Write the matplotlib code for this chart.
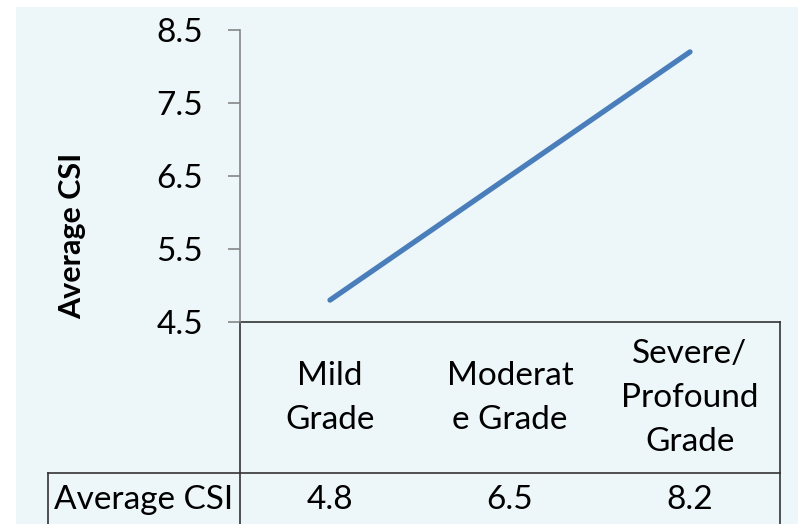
import matplotlib
matplotlib.use('Agg')
import matplotlib.pyplot as plt
from matplotlib.patches import Rectangle

plt.rcParams['font.family'] = ['Lato', 'DejaVu Sans']

# data
categories = ['Mild\nGrade', 'Moderat\ne Grade', 'Severe/\nProfound\nGrade']
avg_csi = [4.8, 6.5, 8.2]
series_name = 'Average CSI'
y_ticks = [4.5, 5.5, 6.5, 7.5, 8.5]

W, H = 798, 524
fig = plt.figure(figsize=(W / 100, H / 100), dpi=100)

# light blue chart area, white margin top/left
fig.patches.append(Rectangle((16 / W, 0), 1, (H - 7) / H, transform=fig.transFigure,
                             facecolor='#edf6f9', edgecolor='none', zorder=-10))

# plot area in pixels: x 240..780, y 30..322
ax = fig.add_axes([240 / W, (H - 322) / H, 540 / W, 292 / H])
ax.set_facecolor('none')

x = list(range(len(categories)))
ax.plot(x, avg_csi, color='#4a7ebb', lw=3.8, solid_capstyle='round', zorder=3)

ax.set_xlim(-0.5, len(categories) - 0.5)
ax.set_ylim(y_ticks[0], y_ticks[-1])
ax.set_yticks(y_ticks)
ax.set_yticklabels([f'{t:.1f}' for t in y_ticks])
ax.set_xticks([])
ax.tick_params(axis='y', length=8.6, width=1.2, color='#868686', pad=18, labelsize=24)
for s in ['top', 'right', 'bottom']:
    ax.spines[s].set_visible(False)
ax.spines['left'].set_color('#868686')
ax.spines['left'].set_linewidth(1.2)

# y axis title, placed like the Excel original (shifted down)
fig.text(72 / W, 1 - 236 / H, 'Average CSI', rotation=90, ha='center', va='center',
         fontsize=22, fontweight='bold')

# data table below the plot (axes fraction units)
px = 1 / 292  # one pixel in axes-height fraction
pxx = 1 / 540
row1 = -151 * px
row2 = -205 * px
lc = '#333333'
kw = dict(transform=ax.transAxes, clip_on=False, color=lc, lw=1.2)
ax.plot([0, 1], [0, 0], **kw)
ax.plot([0, 0], [0, row2], **kw)
ax.plot([1, 1], [0, row2], **kw)
ax.plot([-192 * pxx, 1], [row1, row1], **kw)
ax.plot([-192 * pxx, -192 * pxx], [row1, row2], **kw)

tr = ax.get_xaxis_transform()
for i, (c, v) in enumerate(zip(categories, avg_csi)):
    ax.text(i, -76 * px, c, transform=tr, ha='center', va='center',
            fontsize=24, linespacing=1.6, color='black')
    ax.text(i, -178 * px, f'{v:.1f}', transform=tr, ha='center', va='center',
            fontsize=24, color='black')
ax.text(-96 * pxx, -178 * px, series_name, transform=ax.transAxes, ha='center',
        va='center', fontsize=24, color='black')

fig.savefig('out.png', dpi=100)
